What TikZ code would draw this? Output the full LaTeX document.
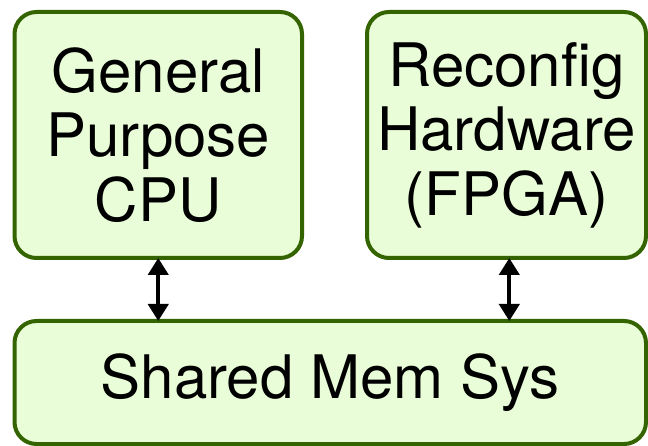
\documentclass[tikz,border=0pt]{standalone}
\usepackage{fontspec}
\setmainfont{TeX Gyre Heros}
\usetikzlibrary{arrows.meta}
\definecolor{boxfill}{RGB}{233,253,216}
\definecolor{boxline}{RGB}{51,100,0}
\begin{document}
\begin{tikzpicture}[x=1pt,y=1pt,
  unit/.style={draw=boxline, fill=boxfill, line width=4pt, rounded corners=22pt,
    outer sep=0pt, inner sep=0pt, align=center,
    font=\fontsize{60}{64.5}\selectfont},
  link/.style={line width=4.2pt,
    {Triangle[width=20pt,length=17pt]}-{Triangle[width=20pt,length=17pt]}}]
\useasboundingbox (0,0) rectangle (648,-446);
% processing units
\node[unit, minimum width=287.5pt, minimum height=246pt] (cpu) at (158.25,-135)
  {General\\Purpose\\CPU};
\node[unit, minimum width=279pt, minimum height=246pt] (fpga) at (506.5,-135)
  {Reconfig\\Hardware\\(FPGA)};
% memory system
\node[unit, minimum width=631.5pt, minimum height=123pt] (mem) at (330.25,-382.5)
  {Shared Mem Sys};
% bidirectional links
\coordinate (fpgaport) at ([xshift=2.8pt]fpga.south);
\draw[link] (cpu.south) -- (cpu.south |- mem.north);
\draw[link] (fpgaport) -- (fpgaport |- mem.north);
\end{tikzpicture}
\end{document}
